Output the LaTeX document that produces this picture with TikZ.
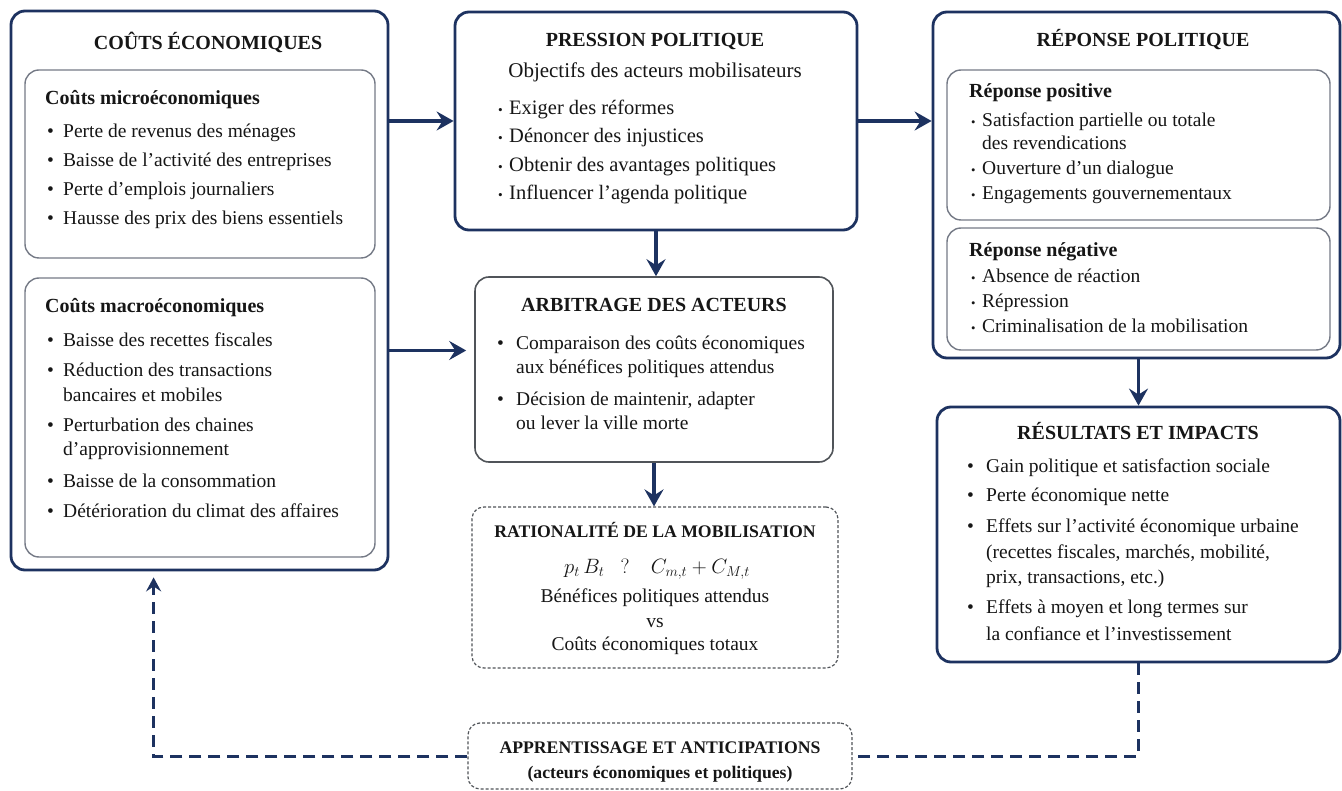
\documentclass[tikz,border=0pt]{standalone}
\usepackage{fontspec}
\setmainfont{Liberation Serif}
\usetikzlibrary{arrows.meta}
\definecolor{navy}{HTML}{1D3260}
\definecolor{innergray}{HTML}{757A86}
\definecolor{boxgray}{HTML}{505459}
\definecolor{ink}{HTML}{161616}
\newcommand\bul{\makebox[16pt][l]{\textbullet}}
\newcommand\sbul{\makebox[11pt][l]{\raisebox{0.1ex}{\scalebox{0.65}{\textbullet}}}}
\newcommand\abul{\makebox[19pt][l]{\textbullet}}
\begin{document}
\begin{tikzpicture}[x=1pt,y=-1pt,
  mainbox/.style={draw=navy, line width=2.8pt, rounded corners=14pt, inner sep=0pt},
  subbox/.style={draw=innergray, line width=1.4pt, rounded corners=14pt, inner sep=0pt},
  midbox/.style={draw=boxgray, line width=1.6pt, rounded corners=14pt, inner sep=0pt},
  dbox/.style={draw=boxgray, line width=1.2pt, dash pattern=on 3pt off 2pt, rounded corners=12pt, inner sep=0pt},
  txt/.style={inner sep=0pt, anchor=base west, text=ink, font=\fontsize{19.5}{22}\selectfont},
  ptxt/.style={inner sep=0pt, anchor=base west, text=ink, font=\fontsize{20.5}{22}\selectfont},
  ctxt/.style={inner sep=0pt, anchor=base, text=ink, font=\fontsize{19.5}{22}\selectfont},
  ttl/.style={inner sep=0pt, anchor=base, text=ink, font=\bfseries\fontsize{20}{22}\selectfont},
  sttl/.style={inner sep=0pt, anchor=base, text=ink, font=\bfseries\fontsize{17.7}{22}\selectfont},
  sub/.style={inner sep=0pt, anchor=base west, text=ink, font=\bfseries\fontsize{20}{22}\selectfont},
  arr/.style={draw=navy, line width=3.6pt, -{Stealth[length=17pt,width=19pt,inset=6pt]}},
  fb/.style={draw=navy, line width=3pt, dash pattern=on 12pt off 7pt},
]
\useasboundingbox (0,0) rectangle (1342,791);
\fill[white] (0,0) rectangle (1342,791);

% ---------- boxes ----------
\node[mainbox, minimum width=377pt, minimum height=559pt] (cout) at (199.5,290.5) {};
\node[subbox, minimum width=350pt, minimum height=188pt] (micro) at (200,164) {};
\node[subbox, minimum width=350pt, minimum height=279pt] (macro) at (200,417.5) {};
\node[mainbox, minimum width=402pt, minimum height=218pt] (press) at (656,121) {};
\node[midbox, minimum width=358pt, minimum height=185pt] (arb) at (654,369.5) {};
\node[dbox, minimum width=366pt, minimum height=161pt] (rat) at (655,587.5) {};
\node[mainbox, minimum width=407pt, minimum height=346pt] (rep) at (1136.5,185) {};
\node[subbox, minimum width=383pt, minimum height=150pt] (pos) at (1138.5,145) {};
\node[subbox, minimum width=383pt, minimum height=122pt] (neg) at (1138.5,289) {};
\node[mainbox, minimum width=403pt, minimum height=255pt] (res) at (1138.5,534.5) {};
\node[dbox, minimum width=384pt, minimum height=66pt] (app) at (660,756) {};

% ---------- left box text ----------
\node[ttl] (t1) at (208,50) {COÛTS ÉCONOMIQUES};
\node[sub] (mi) at (45,105) {Coûts microéconomiques};
\node[txt] (mi1) at (47,138) {\bul Perte de revenus des ménages};
\node[txt] (mi2) at (47,167) {\bul Baisse de l'activité des entreprises};
\node[txt] (mi3) at (47,196) {\bul Perte d'emplois journaliers};
\node[txt] (mi4) at (47,225) {\bul Hausse des prix des biens essentiels};
\node[sub] (ma) at (45,313) {Coûts macroéconomiques};
\node[txt] (ma1) at (47,347) {\bul Baisse des recettes fiscales};
\node[txt] (ma2) at (47,377) {\bul Réduction des transactions};
\node[txt] (ma2b) at (63,402) {bancaires et mobiles};
\node[txt] (ma3) at (47,432) {\bul Perturbation des chaines};
\node[txt] (ma3b) at (63,456) {d'approvisionnement};
\node[txt] (ma4) at (47,487) {\bul Baisse de la consommation};
\node[txt] (ma5) at (47,517) {\bul Détérioration du climat des affaires};

% ---------- pression ----------
\node[ttl] (t2) at (655,47) {PRESSION POLITIQUE};
\node[inner sep=0pt, anchor=base, text=ink, font=\fontsize{21}{22}\selectfont] (obj) at (655,78) {Objectifs des acteurs mobilisateurs};
\node[ptxt] (p1) at (498,115) {\sbul Exiger des réformes};
\node[ptxt] (p2) at (498,143) {\sbul Dénoncer des injustices};
\node[ptxt] (p3) at (498,172) {\sbul Obtenir des avantages politiques};
\node[ptxt] (p4) at (498,200) {\sbul Influencer l'agenda politique};

% ---------- arbitrage ----------
\node[ttl] (t3) at (654,312) {ARBITRAGE DES ACTEURS};
\node[txt] (b1) at (497,350) {\abul Comparaison des coûts économiques};
\node[txt] (b1b) at (516,374) {aux bénéfices politiques attendus};
\node[txt] (b2) at (497,406) {\abul Décision de maintenir, adapter};
\node[txt] (b2b) at (516,430) {ou lever la ville morte};

% ---------- rationalite ----------
\node[sttl] (t4) at (655,537) {RATIONALITÉ DE LA MOBILISATION};
\node[inner sep=0pt, anchor=base, text=ink, font=\fontsize{21.5}{22}\selectfont] (f) at (657,573) {$p_t\,B_t\ \ \ \mathrm{?}\ \ \ \ C_{m,t}+C_{M,t}$};
\node[ctxt] (r1) at (655,602) {Bénéfices politiques attendus};
\node[ctxt] (r2) at (655,627) {vs};
\node[ctxt] (r3) at (655,650) {Coûts économiques totaux};

% ---------- reponse ----------
\node[ttl] (t5) at (1143,47) {RÉPONSE POLITIQUE};
\node[sub] (po) at (969,98) {Réponse positive};
\node[txt] (po1) at (971,127) {\sbul Satisfaction partielle ou totale};
\node[txt] (po1b) at (982,150) {des revendications};
\node[txt] (po2) at (971,175) {\sbul Ouverture d'un dialogue};
\node[txt] (po3) at (971,200) {\sbul Engagements gouvernementaux};
\node[sub] (ne) at (969,257) {Réponse négative};
\node[txt] (ne1) at (971,283) {\sbul Absence de réaction};
\node[txt] (ne2) at (971,308) {\sbul Répression};
\node[txt] (ne3) at (971,333) {\sbul Criminalisation de la mobilisation};

% ---------- resultats ----------
\node[ttl] (t6) at (1138,440) {RÉSULTATS ET IMPACTS};
\node[txt] (s1) at (967,472) {\abul Gain politique et satisfaction sociale};
\node[txt] (s2) at (967,501) {\abul Perte économique nette};
\node[txt] (s3) at (967,532) {\abul Effets sur l'activité économique urbaine};
\node[txt] (s3b) at (986,558) {(recettes fiscales, marchés, mobilité,};
\node[txt] (s3c) at (986,583) {prix, transactions, etc.)};
\node[txt] (s4) at (967,613) {\abul Effets à moyen et long termes sur};
\node[txt] (s4b) at (986,640) {la confiance et l'investissement};

% ---------- apprentissage ----------
\node[sttl] (a1) at (660,753) {APPRENTISSAGE ET ANTICIPATIONS};
\node[sttl] (a2) at (660,778) {(acteurs économiques et politiques)};

% ---------- connectors ----------
\draw[arr] (cout.east |- press.west) -- (press.west);
\draw[arr] (press.east) -- (press.east -| rep.west);
\draw[arr] (press.south) -- (press.south |- arb.north);
\path (arb.west) ++(0,-19) coordinate (a4e);
\draw[arr, shorten >=8pt] (cout.east |- a4e) -- (a4e);
\draw[arr] (arb.south) -- (arb.south |- rat.north);
\draw[arr] (res.north |- rep.south) -- (res.north);
\draw[fb] (res.south) |- (app.east);
\path (cout.south west) ++(144,0) coordinate (fbEnd);
\draw[fb, shorten >=6pt, -{Stealth[length=14pt,width=15pt,inset=5pt]}] (app.west) -| (fbEnd);
\end{tikzpicture}
\end{document}
